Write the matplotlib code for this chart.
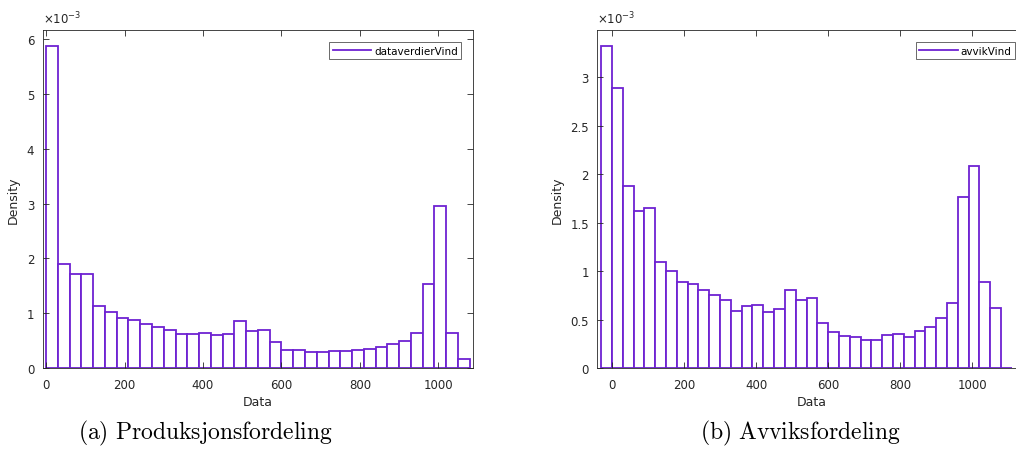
import matplotlib.pyplot as plt
import numpy as np
from matplotlib.lines import Line2D
from matplotlib.ticker import FuncFormatter

# density values in units of 1e-3, bins are 30 wide
prod_start = 0
prod_density = [
  5.88, 1.89, 1.71, 1.71, 1.13, 1.03, 0.905, 0.88, 0.81, 0.74,
  0.69, 0.615, 0.615, 0.64, 0.60, 0.615, 0.86, 0.67, 0.69, 0.48,
  0.32, 0.32, 0.30, 0.29, 0.31, 0.315, 0.33, 0.35, 0.38, 0.44,
  0.50, 0.64, 1.53, 2.95, 0.64, 0.16,
]

avvik_start = -30
avvik_density = [
  3.32, 2.89, 1.88, 1.62, 1.655, 1.09, 1.00, 0.89, 0.87, 0.81,
  0.75, 0.70, 0.59, 0.635, 0.65, 0.58, 0.61, 0.80, 0.70, 0.72,
  0.46, 0.37, 0.33, 0.315, 0.29, 0.29, 0.345, 0.35, 0.32, 0.385,
  0.425, 0.52, 0.67, 1.765, 2.08, 0.89, 0.62, 0.0,
]

bin_width = 30
labels = ["dataverdierVind", "avvikVind"]
captions = [r"$\mathrm{(a)\ Produksjonsfordeling}$", r"$\mathrm{(b)\ Avviksfordeling}$"]

purple = "#6E22D2"
dark = "#262626"

plt.rcParams["font.family"] = ["DejaVu Sans"]

fig = plt.figure(figsize=(10.16, 4.52), dpi=100)
W, H = 1016, 452


def make_axes(left_px, right_px):
  return fig.add_axes([left_px / W, 1 - 369 / H, (right_px - left_px) / W, (369 - 31) / H])


ax1 = make_axes(42.7, 473.3)
ax2 = make_axes(597.3, 1027.0)

setups = [
  (ax1, prod_start, prod_density, (-8.5, 1089), 6.17, np.arange(0, 7, 1), labels[0], captions[0], 205),
  (ax2, avvik_start, avvik_density, (-40.7, 1152), 3.488, np.arange(0, 3.01, 0.5), labels[1], captions[1], 800),
]

for ax, start, dens, xlim, ytop, yticks, lab, cap, cap_x in setups:
  edges = start + bin_width * np.arange(len(dens))
  ax.bar(edges, dens, width=bin_width, align="edge", facecolor="white",
         edgecolor=purple, linewidth=1.3)
  ax.set_xlim(*xlim)
  ax.set_ylim(0, ytop)
  ax.set_xticks(np.arange(0, 1001, 200))
  ax.set_yticks(yticks)
  ax.yaxis.set_major_formatter(FuncFormatter(lambda v, p: "%g" % v))
  ax.tick_params(direction="in", top=True, right=True, length=4, width=0.6,
                 labelsize=8.5, colors=dark, labelcolor=dark)
  ax.tick_params(axis="x", pad=7)
  ax.tick_params(axis="y", pad=6)
  for sp in ax.spines.values():
    sp.set_linewidth(0.6)
    sp.set_color(dark)
  ax.set_xlabel("Data", fontsize=9, color=dark, labelpad=3)
  ax.set_ylabel("Density", fontsize=9, color=dark, labelpad=5)
  ax.text(0.0, 1.01, r"$\times10^{-3}$", transform=ax.transAxes, fontsize=8.5,
          color=dark, ha="left", va="bottom")
  handle = Line2D([], [], color=purple, linewidth=1.3)
  right = 1 - 12 / 430.6
  top = 1 - 12 / 338
  leg = ax.legend([handle], [lab], loc="upper right", fontsize=7.5, frameon=True,
                  fancybox=False, edgecolor=dark, handlelength=3.7,
                  borderpad=0.35, handletextpad=0.25, borderaxespad=0,
                  bbox_to_anchor=(right, top))
  leg.get_frame().set_linewidth(0.6)
  fig.text(cap_x / W, 1 - 433 / H, cap, fontsize=17, ha="center", va="center",
           math_fontfamily="cm", color="black")

fig.savefig("out.png", dpi=100)
